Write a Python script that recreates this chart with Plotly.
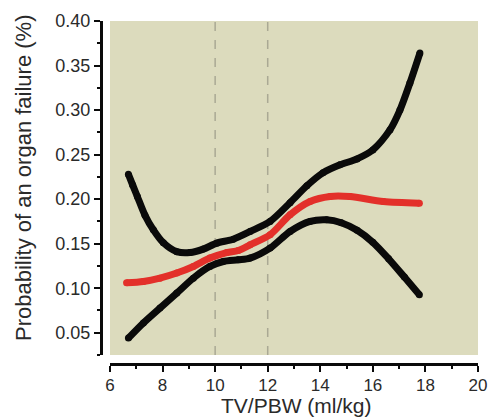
import plotly.graph_objects as go

# Data
upper_x = [6.70, 6.86, 7.04, 7.33, 7.65, 8.03, 8.54, 9.04, 9.55, 10.06, 10.69, 11.33, 12.09,
           12.85, 13.49, 14.10, 14.75, 15.40, 16.00, 16.65, 17.03, 17.41, 17.79]
upper_y = [0.228, 0.216, 0.203, 0.182, 0.1655, 0.151, 0.141, 0.140, 0.1439, 0.1506, 0.155, 0.1637, 0.175,
           0.196, 0.2150, 0.2295, 0.2385, 0.2452, 0.2553, 0.2777, 0.300, 0.3304, 0.364]

mid_x = [6.63, 7.27, 7.90, 8.54, 9.17, 9.80, 10.44, 10.88, 11.33, 12.09, 12.85, 13.61, 14.37, 15.13, 16.40, 17.77]
mid_y = [0.106, 0.1075, 0.1113, 0.117, 0.1244, 0.1338, 0.140, 0.1423, 0.1487, 0.160, 0.1824, 0.1973, 0.203,
         0.2029, 0.1973, 0.1955]

lower_x = [6.70, 7.27, 7.90, 8.54, 9.17, 9.80, 10.31, 10.88, 11.33, 12.09, 12.85, 13.61, 14.24, 14.80,
           15.40, 16.00, 16.60, 17.20, 17.77]
lower_y = [0.044, 0.061, 0.0777, 0.0945, 0.1113, 0.1244, 0.130, 0.1319, 0.1338, 0.145, 0.1637, 0.175, 0.1768,
           0.1735, 0.1650, 0.1515, 0.1330, 0.1125, 0.0926]

ref_lines = [10, 12]
x_ticks = [6, 8, 10, 12, 14, 16, 18, 20]
y_ticks = [0.05, 0.10, 0.15, 0.20, 0.25, 0.30, 0.35, 0.40]
x_title = "TV/PBW (ml/kg)"
y_title = "Probability of an organ failure (%)"

BLACK = "#0a0a0a"
RED = "#e3302a"
BG = "#dcdbbd"
TXT = "#2a2a2a"

fig = go.Figure()
for xs, ys, col in [(upper_x, upper_y, BLACK), (lower_x, lower_y, BLACK), (mid_x, mid_y, RED)]:
    fig.add_trace(go.Scatter(
        x=xs, y=ys, mode="lines+markers",
        line=dict(color=col, width=7, shape="spline", smoothing=0.8),
        marker=dict(color=col, size=7),
        showlegend=False, hoverinfo="skip"))

for xv in ref_lines:
    fig.add_shape(type="line", x0=xv, x1=xv, y0=0, y1=1, xref="x", yref="y domain",
                  line=dict(color="#aaa994", width=1.5, dash="dash"), layer="below")

font_family = "Liberation Sans, Arial, sans-serif"
fig.update_layout(
    width=491, height=419,
    margin=dict(l=90, r=13, t=21, b=50, autoexpand=False),
    paper_bgcolor="white", plot_bgcolor=BG,
    font=dict(family=font_family, color=TXT),
    xaxis=dict(
        domain=[20 / 388, 1], range=[6, 20], anchor="free", position=5 / 348, automargin=False,
        tickvals=x_ticks, ticktext=[str(v) for v in x_ticks],
        ticks="outside", ticklen=6, tickwidth=2, tickcolor=BLACK,
        minor=dict(dtick=1, tick0=0, ticks="outside", ticklen=3, tickwidth=2, tickcolor=BLACK, showgrid=False),
        showline=True, linecolor=BLACK, linewidth=3,
        showgrid=False, zeroline=False,
        tickfont=dict(size=17), ticklabelstandoff=-1,
    ),
    yaxis=dict(
        domain=[14 / 348, 1], range=[0.025, 0.40], anchor="free", position=11 / 388, automargin=False,
        tickvals=y_ticks, ticktext=["%.2f" % v for v in y_ticks],
        ticks="outside", ticklen=6, tickwidth=2, tickcolor=BLACK,
        minor=dict(dtick=0.025, tick0=0, ticks="outside", ticklen=3, tickwidth=2, tickcolor=BLACK, showgrid=False),
        showline=True, linecolor=BLACK, linewidth=3,
        showgrid=False, zeroline=False,
        tickfont=dict(size=18), ticklabelstandoff=0,
    ),
    annotations=[
        dict(text=x_title, xref="paper", yref="paper", x=(296 - 90) / 388, y=(369 - 406) / 348,
             xanchor="center", yanchor="middle", showarrow=False, font=dict(size=21, color=TXT)),
        dict(text=y_title, xref="paper", yref="paper", x=(23 - 90) / 388, y=(369 - 178) / 348,
             xanchor="center", yanchor="middle", showarrow=False, textangle=-90,
             font=dict(size=22, color=TXT)),
    ],
)

fig.write_html(
    "out.html",
    config={"displayModeBar": False},
    post_script=(
        "document.documentElement.style.margin='0';"
        "document.documentElement.style.overflow='hidden';"
        "document.body.style.margin='0';"
        "document.body.style.padding='0';"
        "document.body.style.overflow='hidden';"
    ),
)
